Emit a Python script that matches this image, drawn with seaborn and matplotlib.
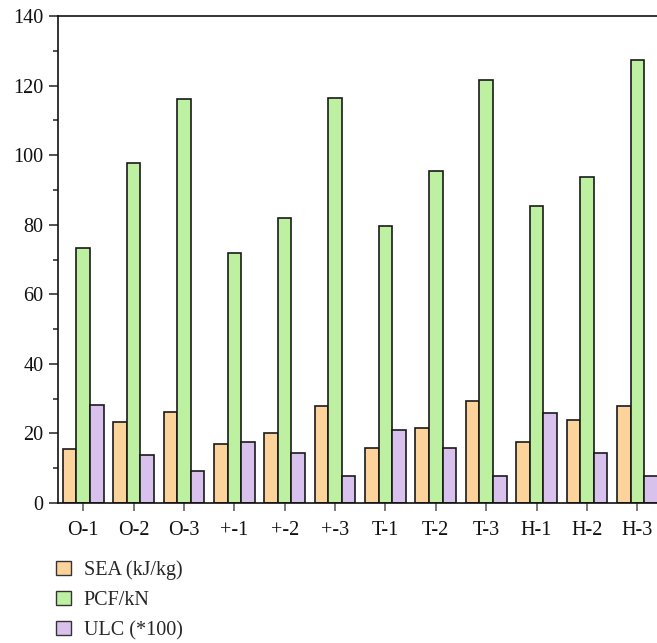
import matplotlib
matplotlib.use("Agg")
import matplotlib.pyplot as plt
from matplotlib.ticker import MultipleLocator
from matplotlib.patches import Patch
import seaborn as sns
import pandas as pd

# Specimen groups and measured quantities
categories = ["O-1", "O-2", "O-3", "+-1", "+-2", "+-3",
              "T-1", "T-2", "T-3", "H-1", "H-2", "H-3"]
sea = [15.5, 23.4, 26.1, 17.0, 20.1, 28.0, 15.8, 21.6, 29.4, 17.5, 23.8, 27.9]
pcf = [73.3, 97.8, 116.0, 71.9, 81.9, 116.5, 79.7, 95.5, 121.6, 85.4, 93.8, 127.4]
ulc = [28.2, 13.8, 9.2, 17.5, 14.5, 7.7, 21.0, 15.7, 7.7, 25.9, 14.5, 7.9]
series = ["SEA (kJ/kg)", "PCF/kN", "ULC (*100)"]
colors = ["#FDD39C", "#BEF0A2", "#D8C1EC"]

df = pd.DataFrame({
    "group": categories * 3,
    "value": sea + pcf + ulc,
    "series": [series[0]] * 12 + [series[1]] * 12 + [series[2]] * 12,
})

sns.set_theme(style="white")
plt.rcParams["font.family"] = ["Liberation Serif", "DejaVu Serif"]
fs = 14.5
plt.rcParams["font.size"] = fs

fig = plt.figure(figsize=(6.57, 6.43), dpi=100)
ax = fig.add_axes([58 / 657, 1 - 503 / 643, (662.5 - 58) / 657, (503 - 16) / 643])

sns.barplot(data=df, x="group", y="value", hue="series", order=categories,
            hue_order=series, palette=colors, width=0.81, saturation=1,
            edgecolor="#1a1a1a", linewidth=1.2, ax=ax, legend=False)

ax.set_xlim(-0.5, 11.5)
ax.set_ylim(0, 140)
ax.yaxis.set_major_locator(MultipleLocator(20))
ax.yaxis.set_minor_locator(MultipleLocator(10))
ax.set_xlabel("")
ax.set_ylabel("")

for side in ["left", "top", "bottom", "right"]:
    ax.spines[side].set_color("#111111")
    ax.spines[side].set_linewidth(1.2)

ax.tick_params(axis="y", which="major", direction="out", length=6.5, width=1.1,
               color="#222222", labelsize=fs, pad=4, left=True)
ax.tick_params(axis="y", which="minor", direction="out", length=3.5, width=1.1,
               color="#222222", left=True)
ax.tick_params(axis="x", which="major", direction="out", length=6, width=1.1,
               color="#555555", labelsize=fs, pad=7, bottom=True)
ax.tick_params(which="both", labelcolor="#111111")

handles = [Patch(facecolor=c, edgecolor="#333333", linewidth=1.0) for c in colors]
fig.legend(handles, series, loc="upper left",
           bbox_to_anchor=(56 / 657, 1 - 560 / 643), frameon=False,
           fontsize=fs, handlelength=0.72, handleheight=0.72,
           handletextpad=0.65, labelspacing=0.55, borderpad=0, borderaxespad=0)

fig.savefig("out.png", dpi=100)
